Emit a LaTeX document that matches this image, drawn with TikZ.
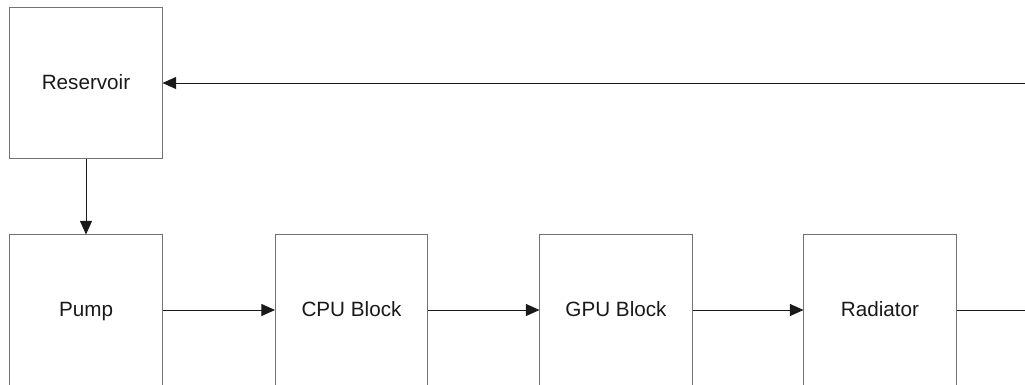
\documentclass[tikz,border=0pt]{standalone}
\usepackage{fontspec}
\setmainfont{Liberation Sans}
\usetikzlibrary{arrows.meta}

\begin{document}
\begin{tikzpicture}[x=0.025cm, y=0.025cm,
    block/.style={draw=black!55, line width=0.7pt, minimum width=3.8cm, minimum height=3.75cm,
        inner sep=0pt, text height=0.9em, text depth=0pt,
        font=\fontsize{14.7}{17}\selectfont, text=black!90},
    flow/.style={draw=black!90, line width=0.7pt, -{Triangle[length=3.4mm, width=3mm]}}]
    \useasboundingbox (0,0) rectangle (1025,384);

    % Reservoir feeds the pump
    \node[block] (res) at (86,301) {Reservoir};
    \node[block] (pump) at (86,74) {Pump};
    \draw[flow] (res) -- (pump);

    % Main loop
    \node[block] (cpu) at (351.5,74) {CPU Block};
    \node[block] (gpu) at (616,74) {GPU Block};
    \node[block] (rad) at (880,74) {Radiator};
    \draw[flow] (pump) -- (cpu);
    \draw[flow] (cpu) -- (gpu);
    \draw[flow] (gpu) -- (rad);

    % Return line
    \coordinate (out) at (1025,74);
    \coordinate (back) at (1025,301);
    \draw[draw=black!90, line width=0.7pt] (rad) -- (out);
    \draw[flow] (back) -- (res);
\end{tikzpicture}
\end{document}
